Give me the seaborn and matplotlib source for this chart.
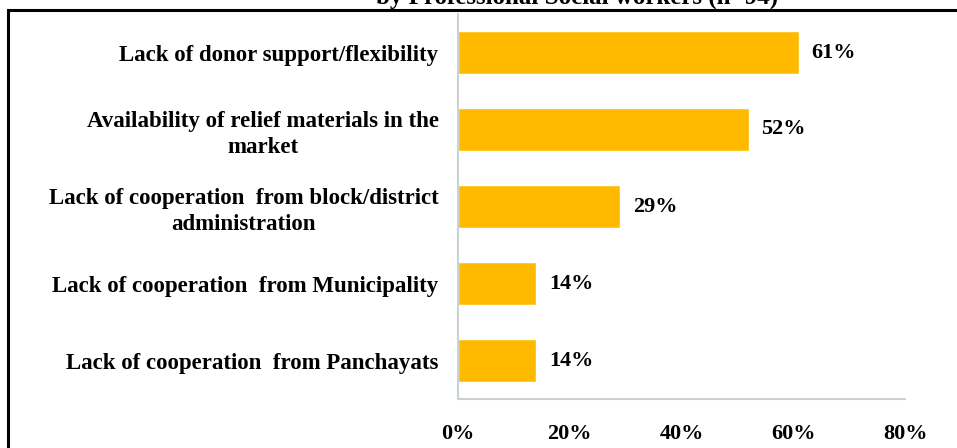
import matplotlib
matplotlib.use("Agg")
import pandas as pd
import seaborn as sns
import matplotlib.pyplot as plt
from matplotlib.patches import Rectangle

# challenges faced during relief work, share of respondents (%)
categories = [
    "Lack of donor support/flexibility",
    "Availability of relief materials in the\nmarket",
    "Lack of cooperation  from block/district\nadministration",
    "Lack of cooperation  from Municipality",
    "Lack of cooperation  from Panchayats",
]
values = [61, 52, 29, 14, 14]
xticks = [0, 20, 40, 60, 80]
title = "by Professional Social workers (n=94)"

df = pd.DataFrame({"challenge": categories, "pct": values})

sns.set_theme(style="white")
plt.rcParams["font.family"] = ["Liberation Serif", "DejaVu Serif"]
plt.rcParams["font.weight"] = "bold"
plt.rcParams["text.color"] = "black"
plt.rcParams["xtick.color"] = "black"
plt.rcParams["ytick.color"] = "black"

fig = plt.figure(figsize=(9.57, 4.48), dpi=100)
ax = fig.add_axes([458 / 957, 49 / 448, 447 / 957, 385 / 448])

sns.barplot(data=df, x="pct", y="challenge", color="#FFBA00", saturation=1,
            width=0.57, orient="h", ax=ax)

for i, v in enumerate(values):
    ax.text(v + 2.3, i, f"{v}%", va="center", ha="left",
            fontsize=16, fontweight="bold", color="black")

ax.set_xlim(0, 80)
ax.set_xticks(xticks)
ax.set_xticklabels([f"{t}%" for t in xticks], fontsize=16, fontweight="bold")
ax.set_yticks(range(len(categories)))
ax.set_yticklabels(categories, fontsize=16.5, fontweight="bold",
                   multialignment="center", linespacing=1.3)
ax.set_xlabel("")
ax.set_ylabel("")
ax.tick_params(axis="x", length=0, pad=18)
ax.tick_params(axis="y", length=0, pad=14)

for side in ["top", "right"]:
    ax.spines[side].set_visible(False)
for side in ["left", "bottom"]:
    ax.spines[side].set_color("#C9D3D3")
    ax.spines[side].set_linewidth(1.5)

# outer frame, cropped at right and bottom like the source
fig.patches.append(Rectangle((8 / 957, -0.2), 1.2, 1 - 10 / 448 + 0.2,
                             transform=fig.transFigure, fill=False,
                             edgecolor="black", linewidth=2.2))

# page title, only its lower edge falls inside the crop
fig.text(577 / 957, 1 - 4 / 448, title, ha="center", va="baseline",
         fontsize=18, fontweight="bold")

fig.savefig("out.png", dpi=100)
